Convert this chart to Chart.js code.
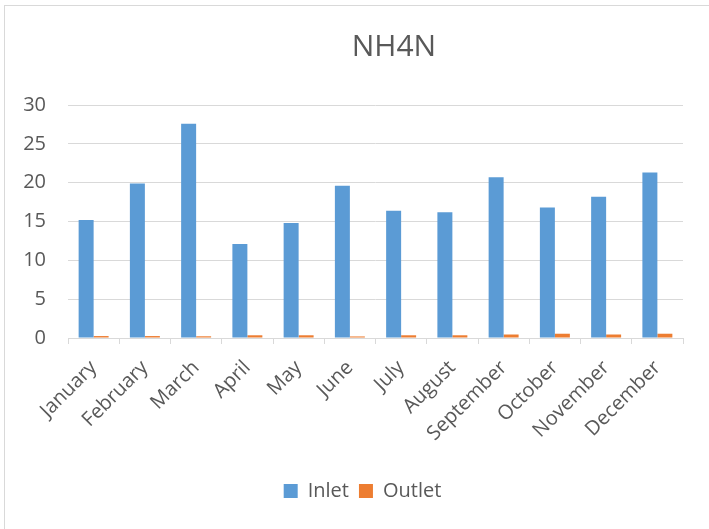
<!DOCTYPE html>
<html>
<head>
<meta charset="utf-8">
<script src="https://cdn.jsdelivr.net/npm/chart.js@4/dist/chart.umd.min.js"></script>
<style>
  html, body { margin: 0; padding: 0; background: #ffffff; overflow: hidden; }
  #wrap { position: relative; width: 709px; height: 529px; }
  #frame { position: absolute; left: 4px; top: 5px; width: 720px; height: 540px;
           border: 1px solid #d9d9d9; box-sizing: border-box; pointer-events: none; }
  canvas { position: absolute; left: 0; top: 0; }
</style>
</head>
<body>
<div id="wrap">
  <canvas id="c" width="709" height="529"></canvas>
  <div id="frame"></div>
</div>
<script>
// Monthly NH4N concentrations at the inlet and outlet
const months = ['January', 'February', 'March', 'April', 'May', 'June',
                'July', 'August', 'September', 'October', 'November', 'December'];
const inlet  = [15.2, 19.9, 27.6, 12.1, 14.8, 19.6, 16.4, 16.2, 20.7, 16.8, 18.2, 21.3];
const outlet = [0.25, 0.25, 0.22, 0.35, 0.35, 0.2, 0.35, 0.35, 0.45, 0.55, 0.45, 0.55];
const yTicks = [0, 5, 10, 15, 20, 25, 30];
const chartTitle = 'NH4N';

const FONT = "'Open Sans', 'Noto Sans', sans-serif";
const TEXT = '#595959';
const GRID = '#d9d9d9';

// Title drawn above the plot, slightly right of centre
const titlePlugin = {
  id: 'plotTitle',
  afterDraw(chart) {
    const { ctx, chartArea } = chart;
    ctx.save();
    ctx.font = `30px ${FONT}`;
    ctx.fillStyle = TEXT;
    ctx.textAlign = 'center';
    ctx.textBaseline = 'middle';
    ctx.fillText(chartTitle, chartArea.left + (chartArea.right - chartArea.left) * 0.53, 47);
    ctx.restore();
  }
};

// Nudge the bottom legend so it sits under the middle of the frame
const legendShift = {
  id: 'legendShift',
  afterLayout(chart) {
    const lg = chart.legend;
    if (lg) { lg.left += 21; lg.right += 21; }
  }
};

new Chart(document.getElementById('c'), {
  type: 'bar',
  data: {
    labels: months,
    datasets: [
      { label: 'Inlet', data: inlet, backgroundColor: '#5B9BD5' },
      { label: 'Outlet', data: outlet, backgroundColor: '#ED7D31' }
    ]
  },
  options: {
    responsive: false,
    animation: false,
    layout: { padding: { left: 0, right: 26, top: 105, bottom: 18 } },
    datasets: { bar: { barPercentage: 1, categoryPercentage: 0.585 } },
    plugins: {
      legend: {
        position: 'bottom',
        labels: {
          font: { family: FONT, size: 20 },
          color: TEXT,
          boxWidth: 14,
          boxHeight: 14,
          padding: 10
        }
      },
      tooltip: { enabled: false }
    },
    scales: {
      x: {
        afterFit(scale) { scale.height = 133; },
        grid: { display: true, offset: true, drawOnChartArea: false, drawTicks: true,
                tickLength: 6, color: GRID, lineWidth: 1 },
        border: { display: true, color: GRID, width: 1 },
        ticks: {
          font: { family: FONT, size: 20 },
          color: TEXT,
          minRotation: 45,
          maxRotation: 45,
          padding: 12,
          autoSkip: false
        }
      },
      y: {
        min: 0,
        max: 30,
        afterFit(scale) { scale.width = 68; },
        afterBuildTicks(scale) { scale.ticks = yTicks.map(v => ({ value: v })); },
        grid: { color: GRID, lineWidth: 1, drawTicks: false },
        border: { display: false },
        ticks: {
          font: { family: FONT, size: 20 },
          color: TEXT,
          padding: 22
        }
      }
    }
  },
  plugins: [titlePlugin, legendShift]
});
</script>
</body>
</html>
